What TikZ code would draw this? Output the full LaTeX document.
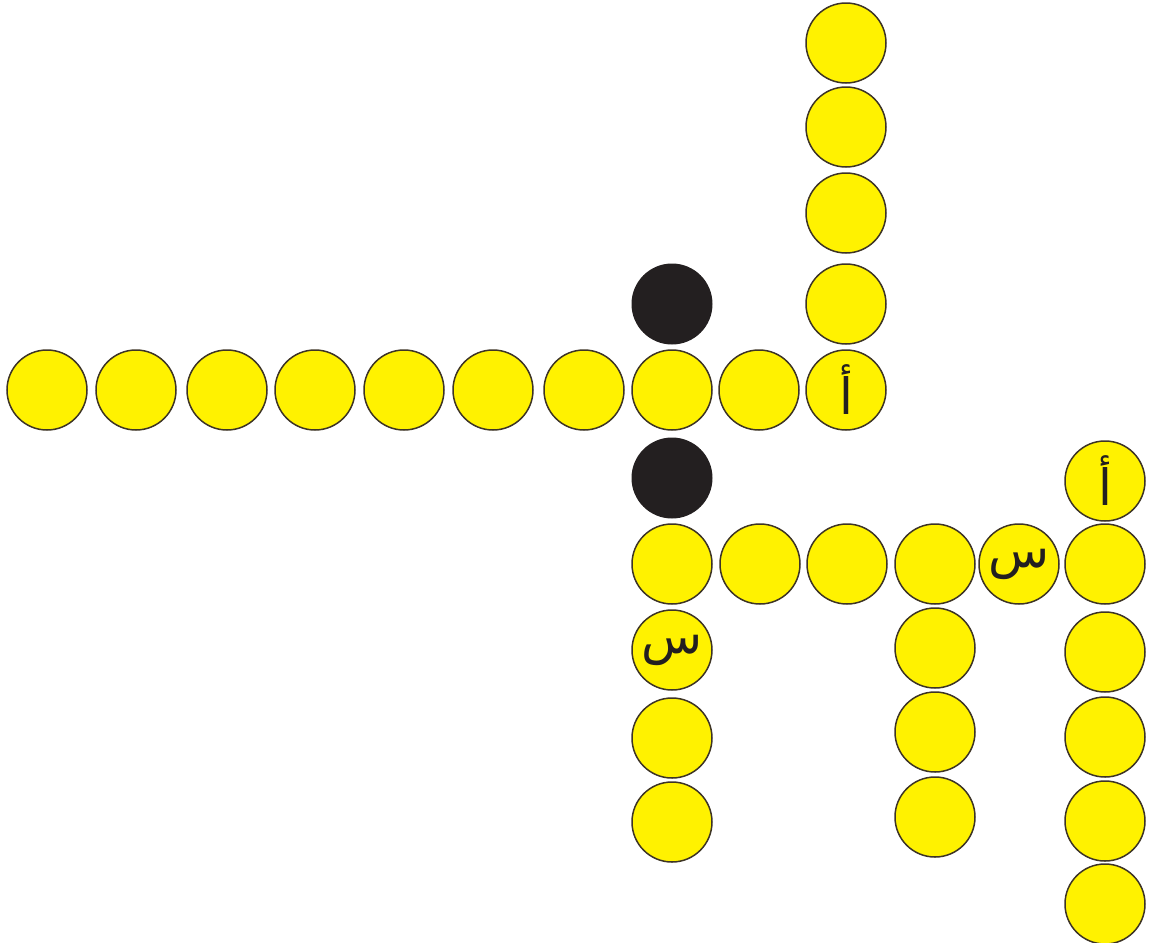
\documentclass[tikz,border=0pt]{standalone}
\usepackage{fontspec}
\newfontfamily\arabicfont[Script=Arabic]{DejaVu Sans}
\TeXXeTstate=1
\definecolor{ballyellow}{HTML}{FFF200}
\definecolor{balledge}{HTML}{3D3425}
\definecolor{ballblack}{HTML}{231F20}
\begin{document}
\begin{tikzpicture}[x=0.5pt,y=-0.5pt,
  ball/.style={circle,minimum size=40pt,inner sep=0pt,fill=ballyellow,draw=balledge,line width=0.75pt},
  blackball/.style={circle,minimum size=40.5pt,inner sep=0pt,fill=ballblack,draw=none},
  letter/.style={font=\arabicfont\fontsize{25}{30}\selectfont,text=ballblack}]
\useasboundingbox (0,0) rectangle (1152,943);
% horizontal row
\node[ball] (h1) at (47,390) {};
\node[ball] (h2) at (136,390) {};
\node[ball] (h3) at (227,390) {};
\node[ball] (h4) at (315,390) {};
\node[ball] (h5) at (404,390) {};
\node[ball] (h6) at (493,390) {};
\node[ball] (h7) at (584,390) {};
\node[ball] (h8) at (672,390) {};
\node[ball] (h9) at (759,390) {};
\node[ball,letter] (h10) at (846,390) {\beginR أ\endR};
% vertical column above
\node[ball] (v1) at (846,43) {};
\node[ball] (v2) at (846,127) {};
\node[ball] (v3) at (846,213) {};
\node[ball] (v4) at (846,304) {};
% black balls
\node[blackball] (b1) at (672,304) {};
\node[blackball] (b2) at (672,478) {};
% lower row
\node[ball] (l1) at (672,564) {};
\node[ball] (l2) at (760,564) {};
\node[ball] (l3) at (847,564) {};
\node[ball] (l4) at (935,564) {};
\node[ball,letter] (l5) at (1019,564) {\beginR س\endR};
\node[ball] (l6) at (1105,564) {};
% column under l1
\node[ball,letter] (c1) at (672,650) {\beginR س\endR};
\node[ball] (c2) at (672,738) {};
\node[ball] (c3) at (672,822) {};
% column under l4
\node[ball] (d1) at (935,648) {};
\node[ball] (d2) at (935,732) {};
\node[ball] (d3) at (935,817) {};
% right column
\node[ball,letter] (e0) at (1105,481) {\beginR أ\endR};
\node[ball] (e1) at (1105,652) {};
\node[ball] (e2) at (1105,737) {};
\node[ball] (e3) at (1105,821) {};
\node[ball] (e4) at (1105,904) {};
\end{tikzpicture}
\end{document}
